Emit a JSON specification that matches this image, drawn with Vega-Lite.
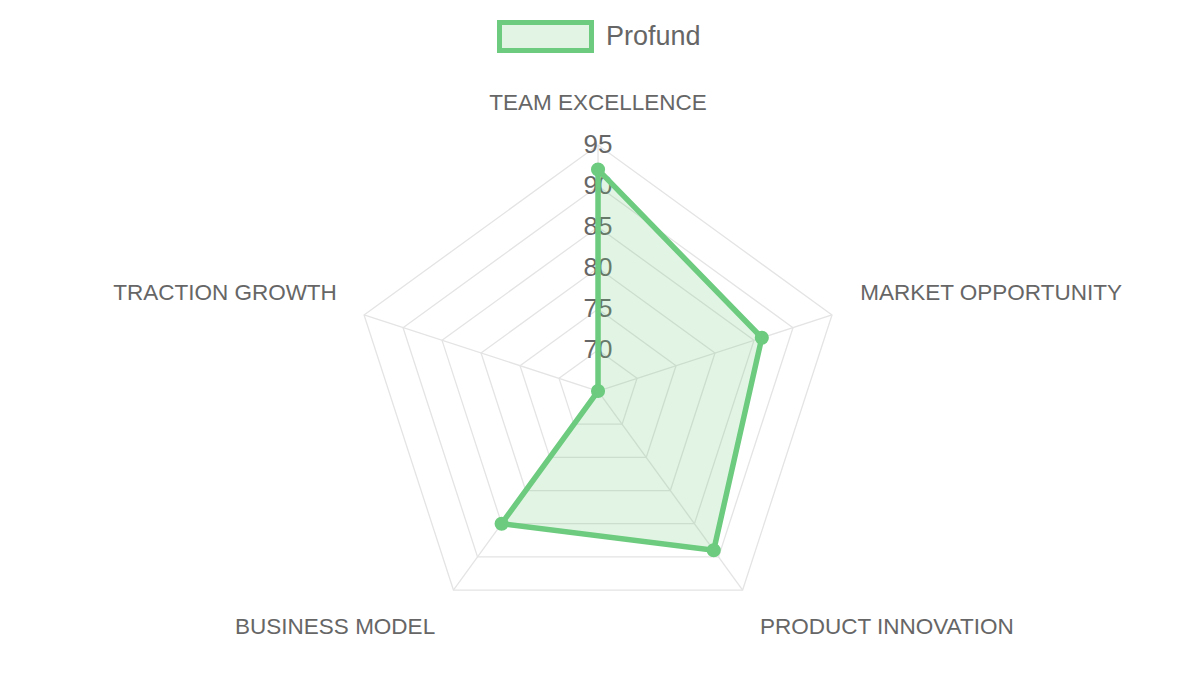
{
  "$schema": "https://vega.github.io/schema/vega-lite/v6.json",
  "width": 1200,
  "height": 675,
  "autosize": {"type": "fit", "contains": "padding"},
  "padding": 0,
  "background": "white",
  "config": {
    "view": {"stroke": null},
    "font": "Liberation Sans",
    "legend": {
      "orient": "none",
      "legendX": 497,
      "legendY": -12,
      "title": null,
      "padding": 0,
      "labelFont": "Liberation Sans",
      "labelFontSize": 27,
      "labelColor": "#666666",
      "labelOffset": 12,
      "symbolType": "M-1,-0.304L1,-0.304L1,0.304L-1,0.304Z",
      "symbolSize": 8464,
      "symbolStrokeWidth": 5,
      "symbolFillColor": "#e2f5e5"
    }
  },
  "datasets": {
    "scores": [
      {"series": "Profund", "axis": "TEAM EXCELLENCE", "i": 0, "value": 92},
      {"series": "Profund", "axis": "MARKET OPPORTUNITY", "i": 1, "value": 86},
      {"series": "Profund", "axis": "PRODUCT INNOVATION", "i": 2, "value": 89},
      {"series": "Profund", "axis": "BUSINESS MODEL", "i": 3, "value": 85},
      {"series": "Profund", "axis": "TRACTION GROWTH", "i": 4, "value": 65}
    ],
    "levels": [
      {"level": 70, "i": [0, 1, 2, 3, 4]},
      {"level": 75, "i": [0, 1, 2, 3, 4]},
      {"level": 80, "i": [0, 1, 2, 3, 4]},
      {"level": 85, "i": [0, 1, 2, 3, 4]},
      {"level": 90, "i": [0, 1, 2, 3, 4]},
      {"level": 95, "i": [0, 1, 2, 3, 4]}
    ]
  },
  "encoding": {
    "x": {
      "field": "x",
      "type": "quantitative",
      "scale": {"domain": [-72.93, 73.41], "nice": false, "zero": false},
      "axis": null
    },
    "y": {
      "field": "y",
      "type": "quantitative",
      "scale": {"domain": [-34.63, 47.68], "nice": false, "zero": false},
      "axis": null
    }
  },
  "layer": [
    {
      "data": {"name": "levels"},
      "transform": [
        {"flatten": ["i"]},
        {"calculate": "(datum.level - 65) * sin(datum.i * 2 * PI / 5)", "as": "x"},
        {"calculate": "(datum.level - 65) * cos(datum.i * 2 * PI / 5)", "as": "y"}
      ],
      "mark": {"type": "line", "interpolate": "linear-closed", "stroke": "#e4e4e4", "strokeWidth": 1.3},
      "encoding": {
        "detail": {"field": "level", "type": "nominal"},
        "order": {"field": "i", "type": "quantitative"}
      }
    },
    {
      "data": {"name": "scores"},
      "transform": [
        {"calculate": "30 * sin(datum.i * 2 * PI / 5)", "as": "x"},
        {"calculate": "30 * cos(datum.i * 2 * PI / 5)", "as": "y"}
      ],
      "mark": {"type": "rule", "stroke": "#e4e4e4", "strokeWidth": 1.3},
      "encoding": {"x2": {"datum": 0}, "y2": {"datum": 0}}
    },
    {
      "data": {"name": "levels"},
      "transform": [
        {"calculate": "0", "as": "x"},
        {"calculate": "datum.level - 65", "as": "y"}
      ],
      "mark": {"type": "text", "fontSize": 26, "fill": "#666666", "font": "Liberation Sans"},
      "encoding": {"text": {"field": "level", "type": "quantitative"}}
    },
    {
      "data": {"name": "scores"},
      "transform": [
        {"calculate": "(datum.value - 65) * sin(datum.i * 2 * PI / 5)", "as": "x"},
        {"calculate": "(datum.value - 65) * cos(datum.i * 2 * PI / 5)", "as": "y"}
      ],
      "layer": [
        {
          "mark": {
            "type": "line",
            "interpolate": "linear-closed",
            "fill": "#6ccb7e",
            "fillOpacity": 0.2,
            "stroke": "#6ccb7e",
            "strokeOpacity": 0,
            "strokeWidth": 0
          },
          "encoding": {
            "order": {"field": "i", "type": "quantitative"}
          }
        },
        {
          "mark": {
            "type": "line",
            "interpolate": "linear-closed",
            "strokeWidth": 5.5
          },
          "encoding": {
            "order": {"field": "i", "type": "quantitative"},
            "color": {
              "field": "series",
              "type": "nominal",
              "scale": {"range": ["#6ccb7e"]}
            }
          }
        },
        {
          "mark": {"type": "point", "filled": true, "size": 200, "opacity": 1, "color": "#6ccb7e"}
        }
      ]
    },
    {
      "data": {"name": "scores"},
      "transform": [
        {"calculate": "34 * sin(datum.i * 2 * PI / 5)", "as": "x"},
        {"calculate": "34 * cos(datum.i * 2 * PI / 5)", "as": "y"}
      ],
      "layer": [
        {
          "transform": [{"filter": "datum.i == 0"}],
          "mark": {"type": "text", "align": "center", "dy": -9, "fontSize": 22.5, "fill": "#666666"},
          "encoding": {"text": {"field": "axis"}}
        },
        {
          "transform": [{"filter": "datum.i == 1"}],
          "mark": {"type": "text", "align": "left", "dx": -3, "dy": -12, "fontSize": 22.5, "fill": "#666666"},
          "encoding": {"text": {"field": "axis"}}
        },
        {
          "transform": [{"filter": "datum.i == 2"}],
          "mark": {"type": "text", "align": "left", "dx": -2, "dy": 10, "fontSize": 22.5, "fill": "#666666"},
          "encoding": {"text": {"field": "axis"}}
        },
        {
          "transform": [{"filter": "datum.i == 3"}],
          "mark": {"type": "text", "align": "right", "dx": 1, "dy": 10, "fontSize": 22.5, "fill": "#666666"},
          "encoding": {"text": {"field": "axis"}}
        },
        {
          "transform": [{"filter": "datum.i == 4"}],
          "mark": {"type": "text", "align": "right", "dx": 4, "dy": -12, "fontSize": 22.5, "fill": "#666666"},
          "encoding": {"text": {"field": "axis"}}
        }
      ]
    }
  ]
}
